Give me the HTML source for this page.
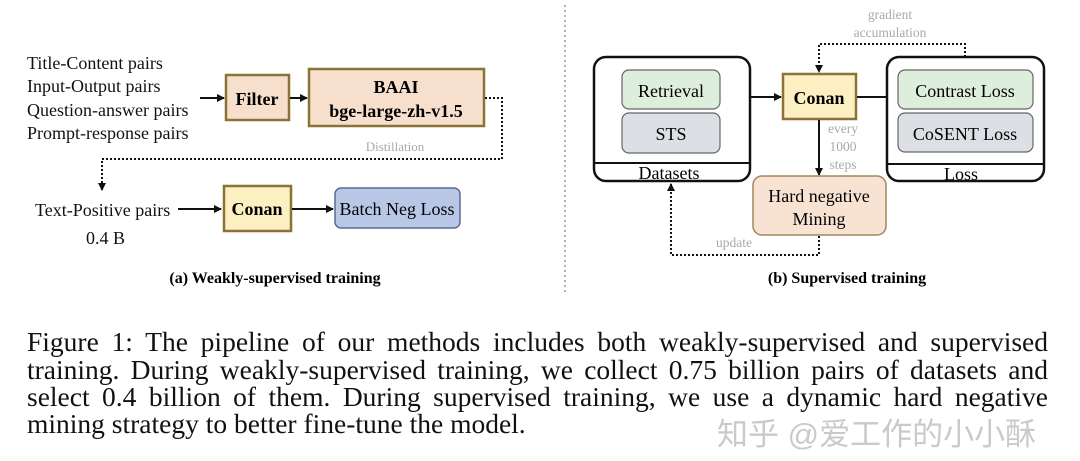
<!DOCTYPE html>
<html><head><meta charset="utf-8"><style>
html,body{margin:0;padding:0;background:#fff;width:1080px;height:461px;overflow:hidden}
.p{position:absolute;left:27px;width:1021px;font-family:"Liberation Serif",serif;font-size:27.5px;word-spacing:-3px;color:#111;white-space:nowrap;text-align:justify;text-align-last:justify;height:27px;line-height:27px}
.wm{position:absolute;left:717px;top:409px;font-family:"Liberation Sans","Noto Sans CJK SC",sans-serif;font-size:31px;color:rgba(150,150,150,0.5);white-space:nowrap}
</style></head><body>
<svg width="1080" height="300" style="position:absolute;left:0;top:0" font-family="Liberation Serif, serif">
<defs><marker id="a" markerWidth="8" markerHeight="8" refX="7" refY="4" orient="auto" markerUnits="userSpaceOnUse"><path d="M0,0 L8,4 L0,8z" fill="#111"/></marker></defs>
<g font-size="18" fill="#111">
<text x="27" y="69">Title-Content pairs</text>
<text x="27" y="92">Input-Output pairs</text>
<text x="27" y="116">Question-answer pairs</text>
<text x="27" y="139">Prompt-response pairs</text>
<text x="35" y="216">Text-Positive pairs</text>
<text x="86" y="244">0.4 B</text>
</g>
<line x1="200" y1="98" x2="224" y2="98" stroke="#111" stroke-width="2" marker-end="url(#a)"/>
<rect x="226" y="75" width="63" height="45" fill="#f7dfcd" stroke="#8b7335" stroke-width="2.5"/>
<text x="257" y="105" font-size="18" font-weight="bold" text-anchor="middle">Filter</text>
<line x1="290" y1="98" x2="307" y2="98" stroke="#111" stroke-width="2" marker-end="url(#a)"/>
<rect x="309" y="69" width="175" height="57" fill="#f7dfcd" stroke="#8b7335" stroke-width="2.5"/>
<text x="396" y="93" font-size="18" font-weight="bold" text-anchor="middle">BAAI</text>
<text x="396" y="117" font-size="18" font-weight="bold" text-anchor="middle">bge-large-zh-v1.5</text>
<path d="M485,98 H502 V159 H102 V190" fill="none" stroke="#111" stroke-width="2" stroke-dasharray="2,2" marker-end="url(#a)"/>
<text x="395" y="151" font-size="13" fill="#aaa" text-anchor="middle">Distillation</text>
<line x1="178" y1="209" x2="221" y2="209" stroke="#111" stroke-width="2" marker-end="url(#a)"/>
<rect x="224" y="186" width="67" height="45" fill="#fcefc2" stroke="#8b7335" stroke-width="2.5"/>
<text x="257" y="215" font-size="18" font-weight="bold" text-anchor="middle">Conan</text>
<line x1="292" y1="209" x2="333" y2="209" stroke="#111" stroke-width="2" marker-end="url(#a)"/>
<rect x="335" y="188" width="125" height="40" rx="6" fill="#b8c7e6" stroke="#5a6a90" stroke-width="1.5"/>
<text x="397" y="215" font-size="18" text-anchor="middle">Batch Neg Loss</text>
<text x="275" y="283" font-size="16" font-weight="bold" text-anchor="middle">(a) Weakly-supervised training</text>
<line x1="565" y1="5" x2="565" y2="295" stroke="#999" stroke-width="1.5" stroke-dasharray="2,3"/>
<rect x="594" y="57" width="156" height="124" rx="12" fill="#fff" stroke="#111" stroke-width="2.5"/>
<line x1="594" y1="163" x2="750" y2="163" stroke="#111" stroke-width="2"/>
<text x="669" y="179" font-size="18" text-anchor="middle">Datasets</text>
<rect x="622" y="70" width="98" height="39" rx="7" fill="#deeedc" stroke="#666" stroke-width="1.2"/>
<text x="671" y="97" font-size="18" text-anchor="middle">Retrieval</text>
<rect x="622" y="113" width="98" height="40" rx="7" fill="#dcdfe4" stroke="#666" stroke-width="1.2"/>
<text x="671" y="140" font-size="18" text-anchor="middle">STS</text>
<line x1="751" y1="97" x2="781" y2="97" stroke="#111" stroke-width="2" marker-end="url(#a)"/>
<rect x="783" y="74" width="73" height="45" fill="#fcefc2" stroke="#8b7335" stroke-width="2.5"/>
<text x="819" y="104" font-size="18" font-weight="bold" text-anchor="middle">Conan</text>
<line x1="857" y1="97" x2="887" y2="97" stroke="#111" stroke-width="2"/>
<rect x="887" y="57" width="157" height="124" rx="12" fill="#fff" stroke="#111" stroke-width="2.5"/>
<line x1="887" y1="164" x2="1044" y2="164" stroke="#111" stroke-width="2"/>
<text x="961" y="180" font-size="18" text-anchor="middle">Loss</text>
<rect x="898" y="70" width="135" height="39" rx="7" fill="#deeedc" stroke="#666" stroke-width="1.2"/>
<text x="965" y="97" font-size="18" text-anchor="middle">Contrast Loss</text>
<rect x="898" y="113" width="135" height="39" rx="7" fill="#dcdfe4" stroke="#666" stroke-width="1.2"/>
<text x="965" y="140" font-size="18" text-anchor="middle">CoSENT Loss</text>
<path d="M965,57 V44 H819 V72" fill="none" stroke="#111" stroke-width="2" stroke-dasharray="2,2" marker-end="url(#a)"/>
<g font-size="13.5" fill="#aaa" text-anchor="middle">
<text x="890" y="19">gradient</text>
<text x="890" y="37">accumulation</text>
<text x="843" y="133">every</text>
<text x="843" y="151">1000</text>
<text x="843" y="169">steps</text>
<text x="734" y="247">update</text>
</g>
<line x1="819" y1="120" x2="819" y2="175" stroke="#111" stroke-width="2" marker-end="url(#a)"/>
<rect x="753" y="176" width="133" height="59" rx="9" fill="#f8e3d3" stroke="#a08860" stroke-width="1.5"/>
<text x="819" y="202" font-size="18" text-anchor="middle">Hard negative</text>
<text x="819" y="225" font-size="18" text-anchor="middle">Mining</text>
<path d="M819,236 V255 H671 V184" fill="none" stroke="#111" stroke-width="2" stroke-dasharray="2,2" marker-end="url(#a)"/>
<text x="847" y="283" font-size="16" font-weight="bold" text-anchor="middle">(b) Supervised training</text>
</svg>
<div class="p" style="top:328px">Figure 1: The pipeline of our methods includes both weakly-supervised and supervised</div>
<div class="p" style="top:356px">training. During weakly-supervised training, we collect 0.75 billion pairs of datasets and</div>
<div class="p" style="top:383px">select 0.4 billion of them. During supervised training, we use a dynamic hard negative</div>
<div class="p" style="top:410px;text-align-last:left;word-spacing:0">mining strategy to better fine-tune the model.</div>
<div class="wm">知乎 @爱工作的小小酥</div>
</body></html>
